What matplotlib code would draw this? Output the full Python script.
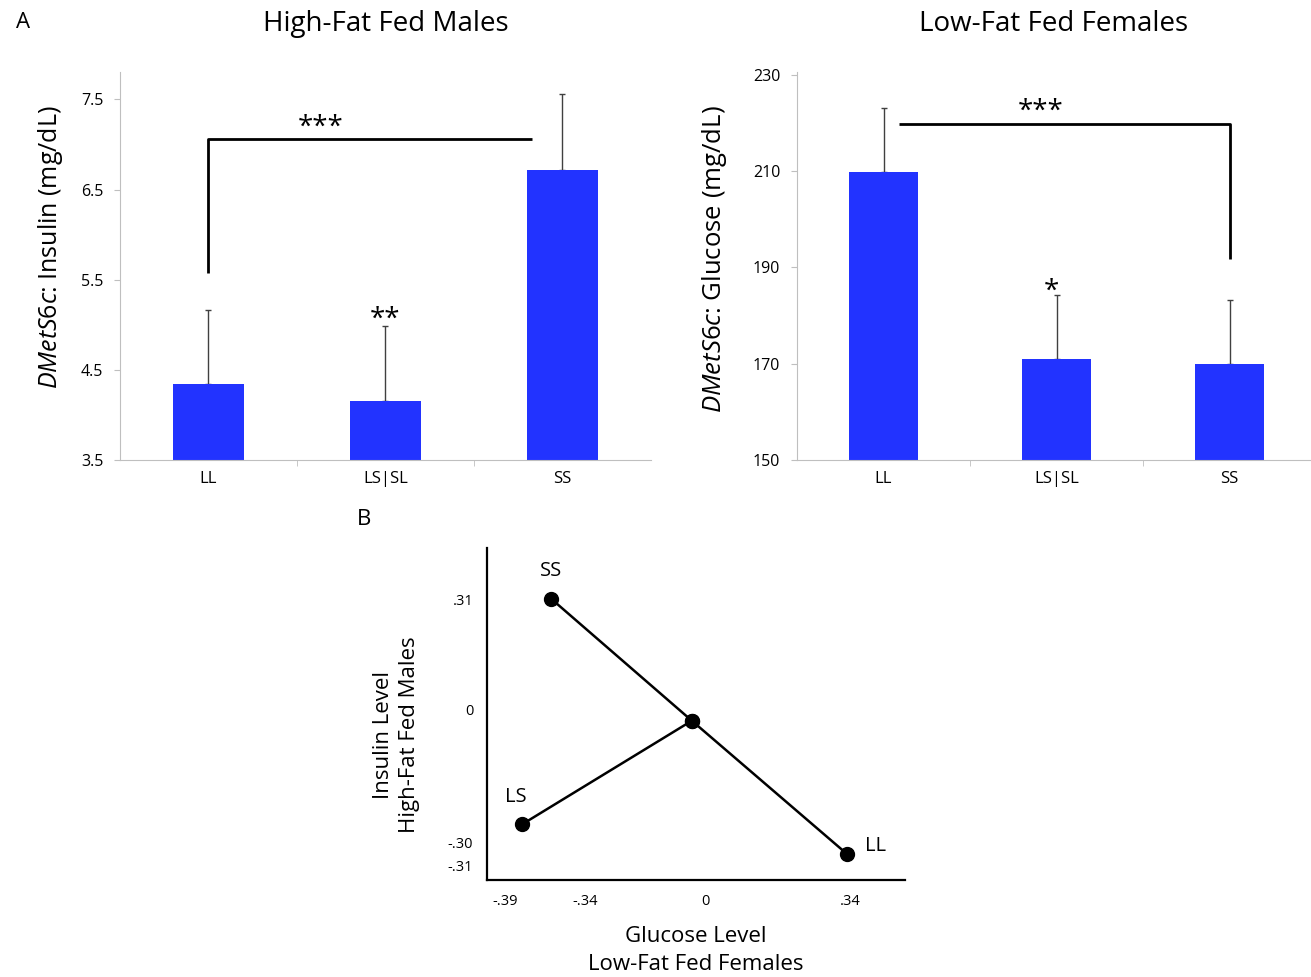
import matplotlib
matplotlib.use('Agg')
import matplotlib.pyplot as plt

plt.rcParams['font.family'] = ['Open Sans', 'DejaVu Sans']
plt.rcParams['mathtext.fontset'] = 'custom'
plt.rcParams['mathtext.it'] = 'Open Sans:italic'
plt.rcParams['mathtext.rm'] = 'Open Sans'

# panel A data
genotypes = ['LL', 'LS|SL', 'SS']
insulin_mean = [4.34, 4.16, 6.72]
insulin_err = [0.83, 0.83, 0.84]
glucose_mean = [209.8, 171.1, 170.0]
glucose_err = [13.2, 13.2, 13.3]

# panel B data (schematic coordinates)
pt_names = ['SS', '', 'LL']
pt_glucose = [-0.313, -0.003, 0.34]
pt_insulin = [0.31, -0.002, -0.344]
ls_glucose = [-0.377, -0.003]
ls_insulin = [-0.267, -0.002]
b_xticks = [-0.415, -0.238, 0.026, 0.347]
b_xlabels = ['-.39', '-.34', '0', '.34']
b_yticks = [0.308, 0.026, -0.315, -0.374]
b_ylabels = ['.31', '0', '-.30', '-.31']

bar_color = '#2233ff'
grey = '#bfbfbf'

fig = plt.figure(figsize=(13.11, 9.77), dpi=100)


def bar_panel(ax, means, errs, ylim, yticks, ylabel, title):
  x = range(len(genotypes))
  ax.bar(x, means, width=0.4, color=bar_color, zorder=2)
  ax.errorbar(x, means, yerr=[[0] * len(errs), errs], fmt='none',
              ecolor='#404040', elinewidth=1, capsize=2, capthick=1, zorder=1)
  ax.set_ylim(*ylim)
  ax.set_yticks(yticks)
  ax.set_xticks(list(x))
  ax.set_xticklabels(genotypes, fontsize=12)
  ax.set_xticks([0.5, 1.5], minor=True)
  ax.tick_params(axis='x', which='major', length=0, pad=8)
  ax.tick_params(axis='x', which='minor', length=4, color=grey, direction='out')
  ax.tick_params(axis='y', length=4, color=grey, labelsize=11.5, pad=8)
  for s in ['top', 'right']:
    ax.spines[s].set_visible(False)
  for s in ['left', 'bottom']:
    ax.spines[s].set_color(grey)
  ax.set_ylabel(ylabel, fontsize=18, labelpad=10)
  ax.set_title(title, fontsize=20, pad=30)


ax1 = fig.add_axes([0.0915, 0.529, 0.405, 0.397])
bar_panel(ax1, insulin_mean, insulin_err, (3.5, 7.8), [3.5, 4.5, 5.5, 6.5, 7.5],
          r'$DMetS6c$: Insulin (mg/dL)', 'High-Fat Fed Males')
ax1.set_xlim(-0.5, 2.5)
ax1.yaxis.set_label_coords(-0.104, 0.55, transform=ax1.transAxes)
ax1.plot([0, 0, 1.83], [5.58, 7.06, 7.06], color='black', lw=2, solid_capstyle='butt')
ax1.text(0.635, 7.18, '***', ha='center', va='center', fontsize=20)
ax1.text(1.0, 5.06, '**', ha='center', va='center', fontsize=20)

ax2 = fig.add_axes([0.608, 0.529, 0.392, 0.397])
bar_panel(ax2, glucose_mean, glucose_err, (150, 230.5), [150, 170, 190, 210, 230],
          r'$DMetS6c$: Glucose (mg/dL)', 'Low-Fat Fed Females')
ax2.set_xlim(-0.5, 2.47)
ax2.yaxis.set_label_coords(-0.132, 0.518, transform=ax2.transAxes)
ax2.yaxis.label.set_fontsize(18.5)
ax2.plot([0.09, 2.0, 2.0], [219.8, 219.8, 191.8], color='black', lw=2, solid_capstyle='butt')
ax2.text(0.91, 222.3, '***', ha='center', va='center', fontsize=20)
ax2.text(0.97, 185.0, '*', ha='center', va='center', fontsize=20)

fig.text(0.012, 0.977, 'A', fontsize=16, va='center')
fig.text(0.272, 0.468, 'B', fontsize=16, va='center')

ax3 = fig.add_axes([0.3715, 0.0993, 0.319, 0.34])
ax3.plot(pt_glucose, pt_insulin, color='black', lw=1.8, marker='o', markersize=10, zorder=3)
ax3.plot(ls_glucose, ls_insulin, color='black', lw=1.8, marker='o', markersize=10, zorder=3)
ax3.text(pt_glucose[0], pt_insulin[0] + 0.045, pt_names[0], ha='center', va='bottom', fontsize=14.5)
ax3.text(ls_glucose[0] - 0.015, ls_insulin[0] + 0.045, 'LS', ha='center', va='bottom', fontsize=14.5)
ax3.text(pt_glucose[2] + 0.04, pt_insulin[2] + 0.02, pt_names[2], ha='left', va='center', fontsize=14.5)
ax3.set_xlim(-0.455, 0.468)
ax3.set_ylim(-0.41, 0.441)
ax3.set_xticks(b_xticks)
ax3.set_xticklabels(b_xlabels, fontsize=10.5)
ax3.set_yticks(b_yticks)
ax3.set_yticklabels(b_ylabels, fontsize=10.5)
ax3.tick_params(length=0, pad=10)
for s in ['top', 'right']:
  ax3.spines[s].set_visible(False)
for s in ['left', 'bottom']:
  ax3.spines[s].set_linewidth(1.6)
ax3.set_xlabel('Glucose Level\nLow-Fat Fed Females', fontsize=16, linespacing=1.4)
ax3.xaxis.set_label_coords(0.5, -0.14, transform=ax3.transAxes)
ax3.xaxis.label.set_va('top')
ax3.set_ylabel('Insulin Level\nHigh-Fat Fed Males', fontsize=16, linespacing=1.3)
ax3.yaxis.set_label_coords(-0.16, 0.437, transform=ax3.transAxes)

plt.savefig('out.png', dpi=100)
plt.close('all')
